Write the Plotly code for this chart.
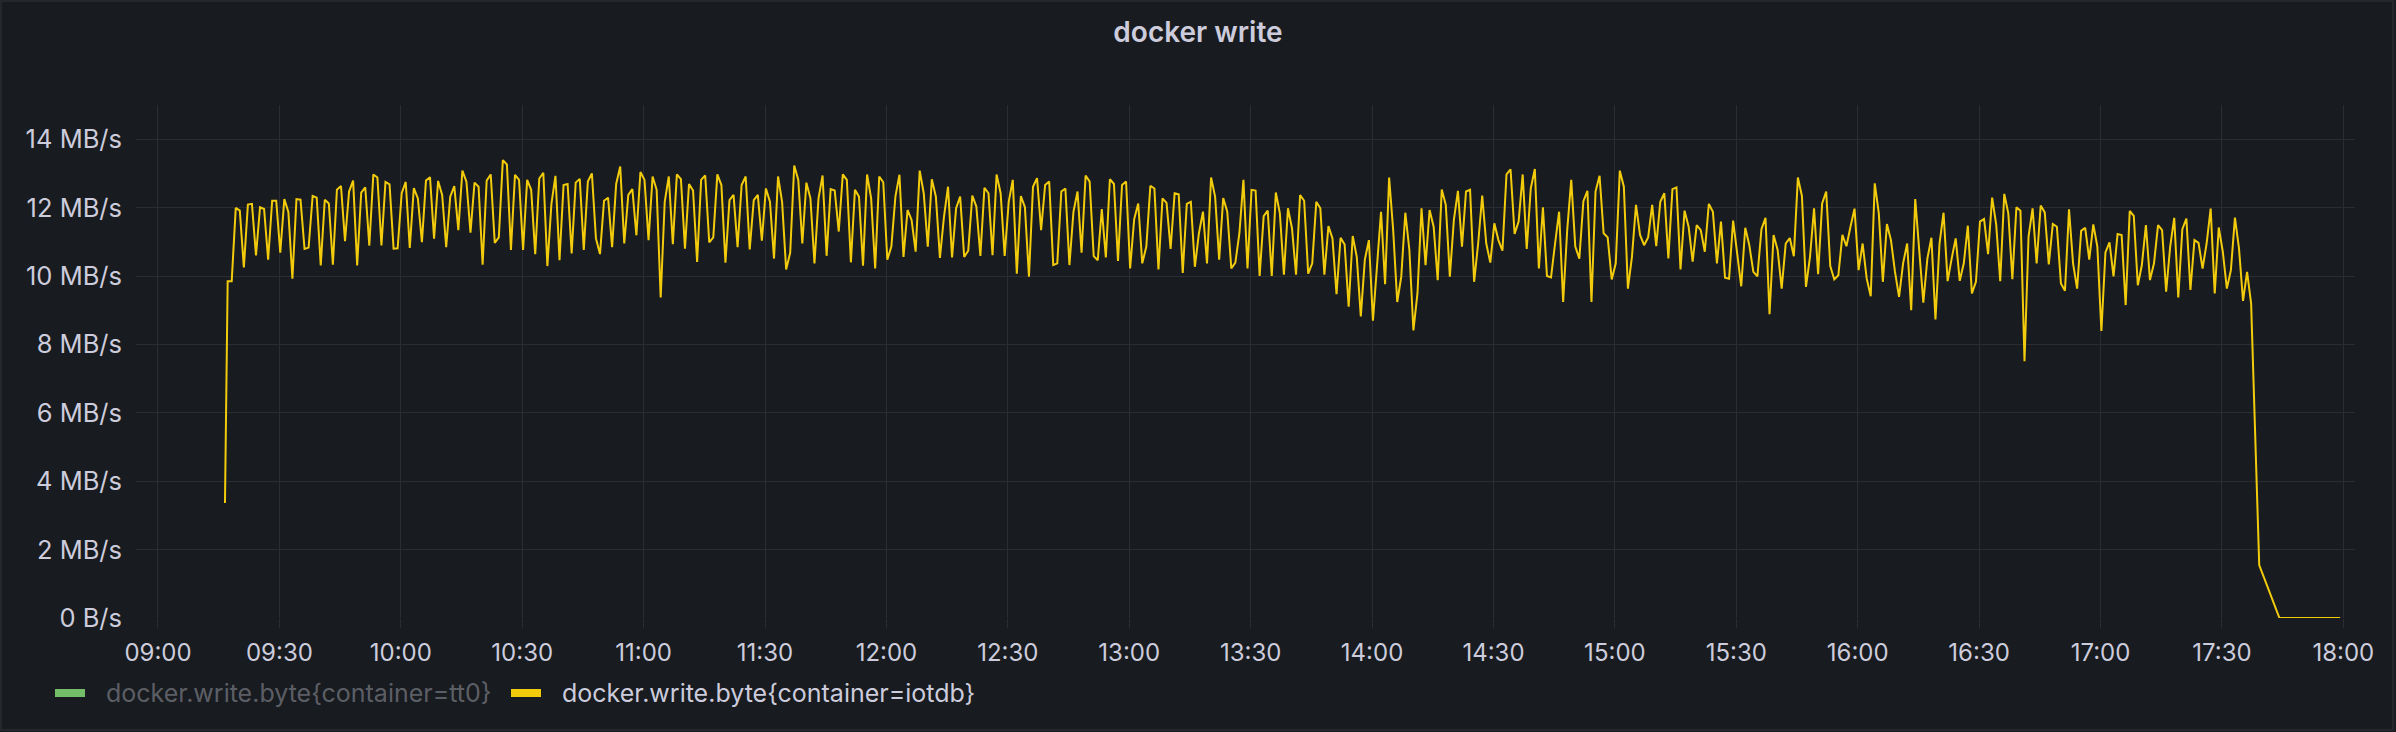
import pandas as pd
import plotly.graph_objects as go

# ---------------- data (MB/s) ----------------
first_time = "2023-06-01 09:16:33"
first_value = 3.36

series_start = "2023-06-01 09:17:13"   # one sample per minute from here

iotdb_0917_1113 = [
    9.85, 9.85, 11.99, 11.91, 10.25, 12.09, 12.11, 10.60, 12.01, 11.96,
    10.48, 12.20, 12.20, 10.68, 12.25, 11.87, 9.92, 12.25, 12.23, 10.79,
    10.83, 12.34, 12.29, 10.31, 12.23, 12.12, 10.33, 12.52, 12.63, 11.02,
    12.47, 12.79, 10.31, 12.44, 12.59, 10.89, 12.97, 12.88, 10.89, 12.75,
    12.68, 10.80, 10.81, 12.42, 12.75, 10.82, 12.57, 12.27, 10.99, 12.79,
    12.89, 11.09, 12.78, 12.37, 10.84, 12.32, 12.63, 11.34, 13.08, 12.76,
    11.27, 12.73, 12.61, 10.33, 12.79, 12.97, 10.97, 11.13, 13.39, 13.26,
    10.76, 12.96, 12.81, 10.76, 12.81, 12.52, 10.64, 12.85, 13.02, 10.29,
    12.11, 12.93, 10.46, 12.66, 12.69, 10.66, 12.73, 12.84, 10.76, 12.76,
    13.00, 11.10, 10.64, 12.20, 12.29, 10.84, 12.69, 13.20, 10.95, 12.37,
    12.54, 11.19, 13.04, 12.81, 11.05, 12.91, 12.52, 9.37, 12.17, 12.91,
    10.93, 12.97, 12.83, 10.80, 12.69, 12.50, 10.41,
]

iotdb_1114_1317 = [
    12.81, 12.94, 10.98, 11.13, 12.97, 12.66, 10.39, 12.22, 12.37, 10.84,
    12.66, 12.91, 10.78, 12.22, 12.37, 11.03, 12.56, 12.17, 10.51, 12.91,
    12.17, 10.19, 10.68, 13.23, 12.81, 10.95, 12.73, 12.27, 10.37, 12.27,
    12.94, 10.59, 12.54, 12.50, 11.30, 12.97, 12.81, 10.40, 12.52, 12.32,
    10.30, 12.97, 12.27, 10.22, 12.91, 12.74, 10.48, 10.86, 12.32, 12.96,
    10.56, 11.93, 11.64, 10.71, 13.08, 12.42, 10.86, 12.83, 12.32, 10.53,
    11.73, 12.61, 10.54, 11.98, 12.32, 10.56, 10.74, 12.35, 12.03, 10.59,
    12.58, 12.42, 10.61, 12.97, 12.42, 10.59, 12.17, 12.81, 10.07, 12.34,
    12.01, 9.98, 12.61, 12.86, 11.34, 12.66, 12.76, 10.32, 10.37, 12.47,
    12.56, 10.32, 11.88, 12.47, 10.68, 12.94, 12.76, 10.58, 10.46, 11.96,
    10.54, 12.83, 12.69, 10.44, 12.66, 12.76, 10.22, 11.66, 12.12, 10.37,
    10.86, 12.64, 12.56, 10.19, 12.27, 12.14, 10.79, 12.42, 12.39, 10.09,
    12.11, 12.17, 10.27, 11.25,
]

iotdb_1318_1520 = [
    11.88, 10.37, 12.88, 12.32, 10.48, 12.28, 11.88, 10.22, 10.39, 11.25,
    12.81, 10.22, 12.52, 12.50, 10.00, 11.75, 11.91, 10.00, 12.44, 11.83,
    10.04, 11.98, 11.39, 10.04, 12.37, 12.20, 10.07, 10.37, 12.17, 11.98,
    10.04, 11.46, 11.10, 9.47, 11.12, 10.92, 9.10, 11.17, 10.56, 8.82,
    10.48, 11.05, 8.69, 10.17, 11.88, 9.76, 12.88, 11.34, 9.24, 9.98,
    11.85, 10.76, 8.41, 9.49, 11.98, 10.32, 11.93, 11.44, 9.88, 12.53,
    12.08, 9.98, 11.64, 12.49, 10.86, 12.47, 12.52, 9.83, 10.95, 12.35,
    10.95, 10.39, 11.54, 11.05, 10.74, 12.97, 13.12, 11.23, 11.59, 12.97,
    10.79, 12.56, 13.13, 10.22, 12.01, 10.00, 9.96, 10.95, 11.88, 9.24,
    11.34, 12.81, 10.86, 10.51, 12.19, 12.49, 9.24, 12.47, 12.93, 11.25,
    11.13, 9.90, 10.37, 13.08, 12.61, 9.63, 10.56, 12.08, 11.20, 10.90,
    11.13, 12.08, 10.87, 12.17, 12.42, 10.51, 12.54, 12.59, 10.19, 11.91,
    11.44, 10.42, 11.49,
]

iotdb_1521_1737 = [
    11.34, 10.71, 12.11, 11.88, 10.37, 11.59, 9.95, 9.92, 11.62, 10.71,
    9.70, 11.41, 10.90, 10.12, 9.99, 11.37, 11.70, 8.88, 11.20, 10.76,
    9.63, 10.95, 11.11, 10.58, 12.88, 12.34, 9.68, 10.56, 11.98, 10.05,
    12.12, 12.47, 10.29, 9.90, 10.02, 11.20, 10.87, 11.44, 11.97, 10.17,
    10.95, 9.93, 9.41, 12.71, 11.83, 9.83, 11.52, 11.05, 10.12, 9.39,
    10.37, 10.95, 9.00, 12.25, 10.61, 9.22, 10.51, 11.12, 8.73, 10.95,
    11.85, 9.85, 10.51, 11.10, 9.86, 10.37, 11.47, 9.49, 9.83, 11.59,
    11.67, 10.64, 12.29, 11.51, 9.85, 12.40, 11.83, 9.91, 12.01, 11.91,
    7.51, 11.15, 11.98, 10.37, 12.06, 11.86, 10.34, 11.52, 11.44, 9.78,
    9.57, 11.95, 10.37, 9.63, 11.32, 11.41, 10.48, 11.51, 10.86, 8.39,
    10.69, 10.98, 9.99, 11.23, 11.20, 9.15, 11.90, 11.76, 9.73, 10.32,
    11.49, 9.88, 10.37, 11.49, 11.34, 9.54, 10.86, 11.70, 9.37, 11.37,
    11.68, 9.59, 11.05, 10.97, 10.22, 10.95, 11.97, 9.49, 11.42, 10.71,
    9.63, 10.17, 11.71, 10.81, 9.27, 10.12, 9.19,
]

tail_times = ["2023-06-01 17:39:13", "2023-06-01 17:44:13", "2023-06-01 17:49:13",
              "2023-06-01 17:54:13", "2023-06-01 17:59:13"]
tail_values = [1.55, 0.0, 0.0, 0.0, 0.0]

y_tick_values = [0, 2, 4, 6, 8, 10, 12, 14]
y_tick_labels = ["0 B/s", "2 MB/s", "4 MB/s", "6 MB/s", "8 MB/s", "10 MB/s", "12 MB/s", "14 MB/s"]

legend_names = ["docker.write.byte{container=tt0}", "docker.write.byte{container=iotdb}"]
title_text = "docker write"

# ---------------- assemble series ----------------
minute_values = iotdb_0917_1113 + iotdb_1114_1317 + iotdb_1318_1520 + iotdb_1521_1737
minute_times = pd.date_range(series_start, periods=len(minute_values), freq="min")

times = [pd.Timestamp(first_time)] + list(minute_times) + [pd.Timestamp(t) for t in tail_times]
values = [first_value] + minute_values + tail_values

# ---------------- styling ----------------
BG = "#181b1f"
TEXT = "#ccccdc"
GRID = "#2b2d32"
LINE = "#f2cc0c"
FONT = "Inter, Roboto, sans-serif"

fig = go.Figure()
fig.add_trace(go.Scatter(
    x=times, y=values, mode="lines",
    line=dict(color=LINE, width=2),
    name=legend_names[1], showlegend=False,
))

fig.update_layout(
    width=2396, height=732,
    paper_bgcolor=BG, plot_bgcolor=BG,
    margin=dict(l=136, r=41, t=105, b=114),
    font=dict(family=FONT, color=TEXT, size=24),
    title=dict(text=title_text, x=0.5, xanchor="center", y=1 - 32 / 732, yanchor="middle",
               font=dict(family=FONT, size=28, color=TEXT, weight=600)),
    showlegend=False,
)

fig.update_xaxes(
    range=["2023-06-01 08:54:34", "2023-06-01 18:02:53"],
    tickformat="%H:%M", dtick=30 * 60 * 1000, tick0="2023-06-01 09:00:00",
    showgrid=True, gridcolor=GRID, gridwidth=1,
    zeroline=False, showline=False,
    ticks="outside", ticklen=9, tickcolor=GRID, tickwidth=1,
    tickfont=dict(family=FONT, size=24, color=TEXT),
    ticklabelstandoff=4,
)
fig.update_yaxes(
    range=[0, 15], tickvals=y_tick_values, ticktext=y_tick_labels,
    showgrid=True, gridcolor=GRID, gridwidth=1,
    zeroline=False, showline=False,
    ticks="", ticklabelstandoff=13,
    tickfont=dict(family=FONT, size=25.5, color=TEXT),
)

# ---------------- Grafana-style legend ----------------
W, H = 2396.0, 732.0
def px(x):
    return (x - 136) / (W - 136 - 41)
def py(y):
    return (H - 114 - y) / (H - 105 - 114)

swatch_colors = ["#73bf69", LINE]
swatch_x = [55, 511]
text_x = [104, 560]
text_colors = ["rgba(204,204,220,0.40)", TEXT]
for sx, col in zip(swatch_x, swatch_colors):
    fig.add_shape(type="rect", xref="paper", yref="paper",
                  x0=px(sx), x1=px(sx + 30), y0=py(697), y1=py(689),
                  fillcolor=col, line=dict(width=0), layer="above")
for tx, name, col in zip(text_x, legend_names, text_colors):
    fig.add_annotation(x=px(tx), y=py(693), xref="paper", yref="paper",
                       text=name, showarrow=False, xanchor="left", yanchor="middle",
                       font=dict(family=FONT, size=25, color=col))

# thin panel border like the Grafana panel frame
fig.add_shape(type="rect", xref="paper", yref="paper",
              x0=px(1), x1=px(W - 3), y0=py(H - 2), y1=py(1),
              line=dict(color="#25272c", width=2), fillcolor="rgba(0,0,0,0)", layer="below")

fig.write_html(
    "out.html",
    config={"displayModeBar": False},
    post_script="document.body.style.margin='0';document.body.style.background='#181b1f';",
)
